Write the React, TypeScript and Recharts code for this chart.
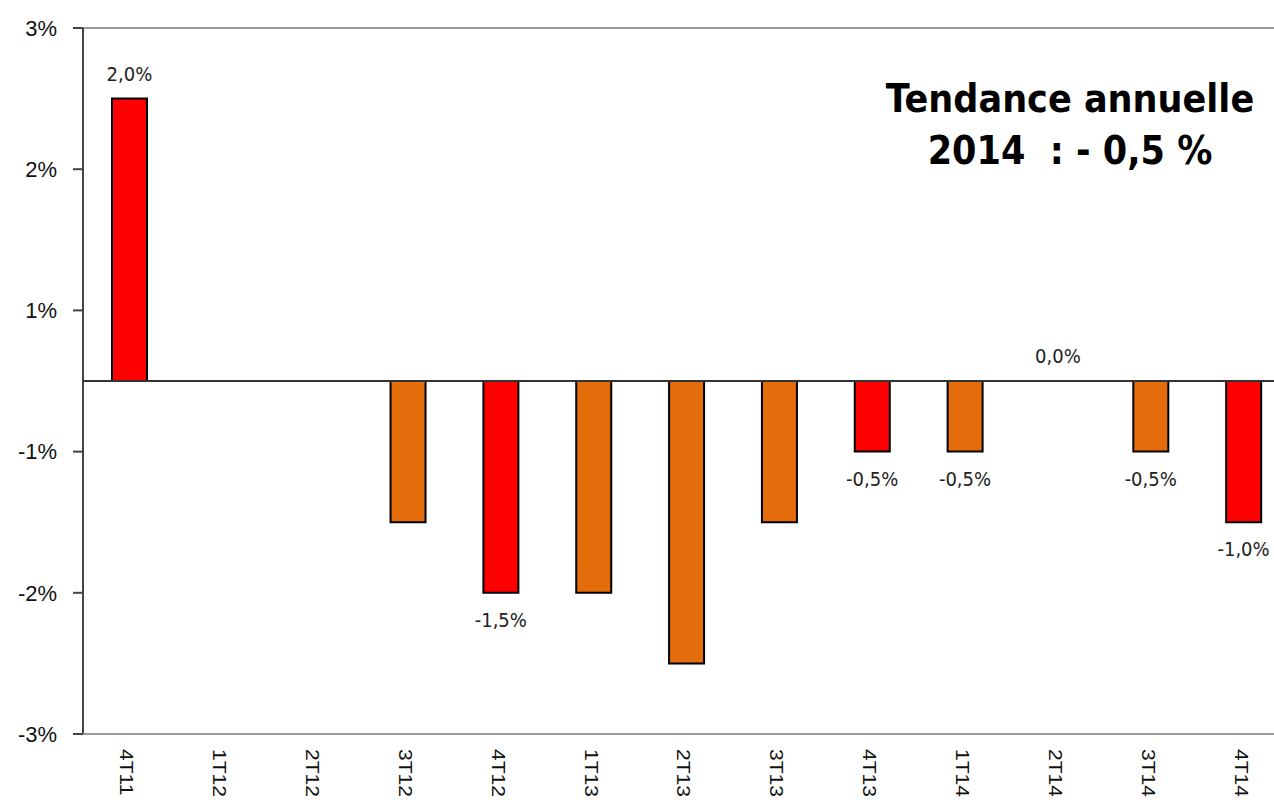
import React from "react";
import {
  ComposedChart,
  Bar,
  Line,
  XAxis,
  YAxis,
  ReferenceLine,
  Cell,
  LabelList,
  LineChart,
} from "recharts";

// ---- data ----
const categories = ["4T11", "1T12", "2T12", "3T12", "4T12", "1T13", "2T13", "3T13", "4T13", "1T14", "2T14", "3T14", "4T14"];
const values: (number | null)[] = [2.0, null, null, -1.0, -1.5, -1.5, -2.0, -1.0, -0.5, -0.5, 0, -0.5, -1.0];
const valueLabels = ["2,0%", "", "", "", "-1,5%", "", "", "", "-0,5%", "-0,5%", "0,0%", "-0,5%", "-1,0%"];
const barColors = ["#FF0000", "#E46C0A", "#E46C0A", "#E46C0A", "#FF0000", "#E46C0A", "#E46C0A", "#E46C0A", "#FF0000", "#E46C0A", "#E46C0A", "#E46C0A", "#FF0000"];
const yTicks = [2.5, 1.5, 0.5, -0.5, -1.5, -2.5];
const yTickLabels = ["3%", "2%", "1%", "-1%", "-2%", "-3%"];
const boundaryTicks = [1, 2, 3, 4, 5, 6, 7, 8, 9, 10, 11, 12];
const trendLines = ["Tendance annuelle", "2014\u00a0\u00a0: - 0,5 %"];

const data = categories.map((c, i) => ({ cat: c, v: values[i], lab: valueLabels[i] }));
const boundaryData = [{ b: 0 }, { b: 13 }];

const W = 1290;
const H = 800;
const tahoma = "'DejaVu Sans Condensed', 'DejaVu Sans', sans-serif";
const arial = "'Liberation Sans', Arial, sans-serif";

const XTick = (props: any) => {
  const { x, y, payload } = props;
  return (
    <text
      transform={`translate(${x},${y}) rotate(90) scale(1.17,1)`}
      x={0}
      y={0}
      dy={9}
      textAnchor="start"
      fontFamily={arial}
      fontSize={18}
      fill="#111"
    >
      {payload.value}
    </text>
  );
};

const YTick = (props: any) => {
  const { x, y, payload } = props;
  const i = yTicks.indexOf(payload.value);
  return (
    <text x={x} y={y} dy="0.355em" textAnchor="end" fontFamily={arial} fontSize={22} fill="#111">
      {i >= 0 ? yTickLabels[i] : ""}
    </text>
  );
};

const PointLabel = (props: any) => {
  const { x, y, value } = props;
  if (!value || y == null || x == null) return null;
  const txt = String(value);
  const neg = txt.startsWith("-");
  const ty = neg ? y + 27 : y - 25;
  return (
    <text x={x} y={ty} dy="0.355em" textAnchor="middle" fontFamily={tahoma} fontSize={20} fill="#222">
      {txt}
    </text>
  );
};

export default function App() {
  return (
    <div
      style={{
        position: "absolute",
        left: 0,
        top: 0,
        width: 1274,
        height: 800,
        overflow: "hidden",
        background: "#fff",
      }}
    >
      {/* cut-off title parentheses */}
      <div
        style={{
          position: "absolute",
          left: 456,
          top: -36,
          width: 591,
          display: "flex",
          justifyContent: "space-between",
          fontFamily: tahoma,
          fontSize: 30,
          color: "#999",
          lineHeight: "36px",
        }}
      >
        <span>(</span>
        <span>)</span>
      </div>

      <div style={{ position: "absolute", left: 0, top: 0 }}>
        <ComposedChart
          width={W}
          height={H}
          data={data}
          margin={{ top: 28, right: 0, left: 0, bottom: 0 }}
          barSize={35}
        >
          <YAxis
            width={83}
            domain={[-2.5, 2.5]}
            ticks={yTicks}
            interval={0}
            allowDataOverflow
            tickSize={10}
            tickMargin={16}
            axisLine={{ stroke: "#444", strokeWidth: 2 }}
            tickLine={{ stroke: "#444", strokeWidth: 2 }}
            tick={<YTick />}
          />
          <XAxis
            dataKey="cat"
            height={66}
            interval={0}
            tickLine={false}
            tickSize={0}
            tickMargin={15}
            axisLine={{ stroke: "#999", strokeWidth: 2 }}
            tick={<XTick />}
          />
          <ReferenceLine y={2.5} stroke="#999" strokeWidth={2} />
          <Bar dataKey="v" isAnimationActive={false} stroke="#000" strokeWidth={2}>
            {data.map((d, i) => (
              <Cell key={d.cat} fill={barColors[i]} />
            ))}
          </Bar>
          <Line
            dataKey="v"
            isAnimationActive={false}
            stroke="none"
            dot={false}
            activeDot={false}
            legendType="none"
          >
            <LabelList dataKey="lab" content={<PointLabel />} />
          </Line>
        </ComposedChart>
      </div>

      {/* zero axis with category boundary ticks */}
      <div style={{ position: "absolute", left: 0, top: 0, pointerEvents: "none" }}>
        <LineChart
          width={W}
          height={401}
          data={boundaryData}
          margin={{ top: 28, right: 0, left: 83, bottom: 0 }}
        >
          <XAxis
            type="number"
            dataKey="b"
            domain={[0, 13]}
            ticks={boundaryTicks}
            interval={0}
            allowDataOverflow
            height={20}
            tick={false}
            tickSize={7}
            axisLine={{ stroke: "#333", strokeWidth: 2 }}
            tickLine={{ stroke: "#333", strokeWidth: 2 }}
          />
        </LineChart>
      </div>

      <div
        style={{
          position: "absolute",
          left: 870,
          top: 73,
          width: 400,
          textAlign: "center",
          fontFamily: tahoma,
          fontWeight: "bold",
          fontSize: 39,
          lineHeight: "52px",
          color: "#000",
          whiteSpace: "pre",
        }}
      >
        {trendLines.map((t) => (
          <div key={t}>{t}</div>
        ))}
      </div>
    </div>
  );
}
